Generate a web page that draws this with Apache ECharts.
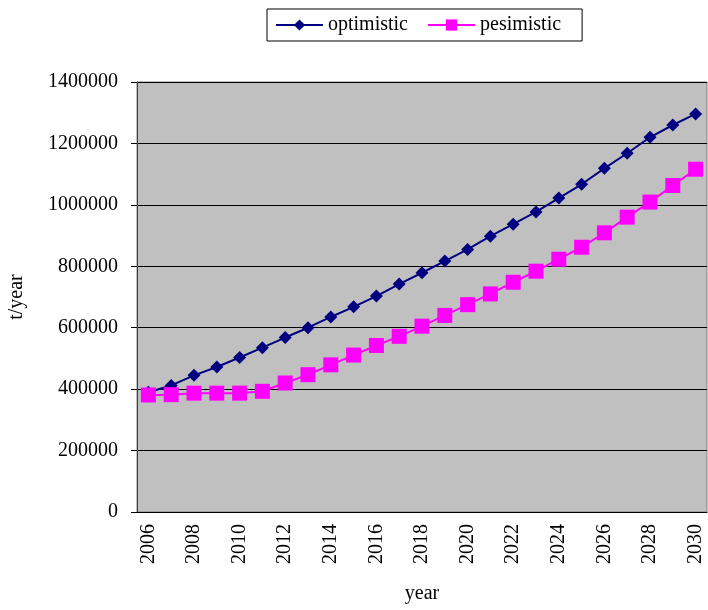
<!DOCTYPE html>
<html>
<head>
<meta charset="utf-8">
<script src="https://cdn.jsdelivr.net/npm/echarts@6/dist/echarts.min.js"></script>
<style>
  html, body { margin: 0; padding: 0; background: #fff; }
  #chart { width: 708px; height: 610px; }
</style>
</head>
<body>
<div id="chart"></div>
<script>
const years = ['2006','2007','2008','2009','2010','2011','2012','2013','2014','2015','2016','2017','2018',
  '2019','2020','2021','2022','2023','2024','2025','2026','2027','2028','2029','2030'];
const optimistic = [390000, 412000, 445000, 472000, 503000, 535000, 568000, 600000, 635000, 668000, 703000, 742000, 779000,
  817000, 855000, 898000, 937000, 977000, 1022000, 1067000, 1119000, 1168000, 1220000, 1260000, 1296000];
const pesimistic = [381000, 382000, 387000, 387000, 387000, 393000, 420000, 447000, 479000, 511000, 542000, 572000, 605000,
  640000, 675000, 710000, 748000, 784000, 823000, 862000, 909000, 960000, 1009000, 1063000, 1116000];
const yTicks = [0, 200000, 400000, 600000, 800000, 1000000, 1200000, 1400000];

const serif = 'Liberation Serif';
const chart = echarts.init(document.getElementById('chart'));
const option = {
  animation: false,
  textStyle: { fontFamily: serif, color: '#000' },
  legend: {
    left: 267,
    top: 9,
    padding: [6, 21, 6, 8],
    borderColor: '#000',
    borderWidth: 1,
    itemWidth: 47,
    itemHeight: 14,
    itemGap: 19,
    textStyle: { fontFamily: serif, fontSize: 20, color: '#000' },
    data: ['optimistic', 'pesimistic']
  },
  grid: {
    left: 137,
    top: 82,
    right: 1,
    bottom: 98,
    outerBoundsMode: 'none',
    show: true,
    backgroundColor: '#c0c0c0',
    borderColor: '#808080',
    borderWidth: 1
  },
  xAxis: {
    type: 'category',
    data: years,
    boundaryGap: true,
    name: 'year',
    nameLocation: 'middle',
    nameGap: 72,
    nameTextStyle: { fontFamily: serif, fontSize: 20, color: '#000' },
    axisLine: { lineStyle: { color: '#000', width: 1 } },
    axisTick: { interval: 0, length: 6, lineStyle: { color: '#000' } },
    axisLabel: { interval: 1, rotate: 90, margin: 12, fontFamily: serif, fontSize: 20, color: '#000' },
    splitLine: { show: false }
  },
  yAxis: {
    type: 'value',
    min: yTicks[0],
    max: yTicks[yTicks.length - 1],
    interval: yTicks[1] - yTicks[0],
    name: 't/year',
    nameLocation: 'middle',
    nameGap: 110,
    nameRotate: 90,
    nameTextStyle: { fontFamily: serif, fontSize: 20, color: '#000' },
    axisLine: { show: true, lineStyle: { color: '#404040', width: 1 } },
    axisTick: { show: true, length: 6, lineStyle: { color: '#000' } },
    axisLabel: { margin: 19, fontFamily: serif, fontSize: 20, color: '#000', formatter: v => String(v) },
    splitLine: { lineStyle: { color: '#000', width: 1 } }
  },
  series: [
    {
      name: 'optimistic',
      type: 'line',
      data: optimistic,
      symbol: 'diamond',
      symbolSize: 13,
      color: '#000080',
      lineStyle: { color: '#000080', width: 2 },
      itemStyle: { color: '#000080' }
    },
    {
      name: 'pesimistic',
      type: 'line',
      data: pesimistic,
      symbol: 'rect',
      symbolSize: 15,
      color: '#ff00ff',
      lineStyle: { color: '#ff00ff', width: 2 },
      itemStyle: { color: '#ff00ff' }
    }
  ]
};
chart.setOption(option);
</script>
</body>
</html>
